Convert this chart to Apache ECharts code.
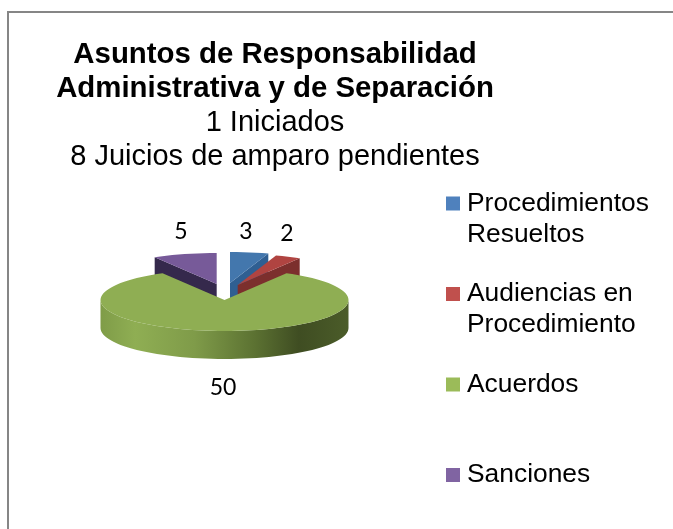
<!DOCTYPE html>
<html>
<head>
<meta charset="utf-8">
<style>html,body{margin:0;padding:0;background:#fff}#c{width:673px;height:529px}</style>
<script src="https://cdn.jsdelivr.net/npm/echarts@6/dist/echarts.min.js"></script>
</head>
<body>
<div id="c"></div>
<script>
const categories = ['Procedimientos\nResueltos', 'Audiencias en\nProcedimiento', 'Acuerdos', 'Sanciones'];
const values = [3, 2, 50, 5];
const titleText = 'Asuntos de Responsabilidad\nAdministrativa y de Separación';
const subtitleText = '1 Iniciados\n8 Juicios de amparo pendientes';

// Drawing constants (projection of the tilted pie)
const RX = 124, RY = 31, DEPTH = 28;
const sliceCenter = [[230, 283], [237.7, 285], [224.5, 300], [216.7, 284]];
const labelAt = [[246, 232], [287, 234], [223, 388], [181, 232]];
const topColor = ['#4377ad', '#b04441', '#8fae53', '#775a99'];
const wallColor = ['#2f5f92', '#7c2f2d', '#5f7a36', '#35294c'];
const legendColor = ['#4f81bd', '#c0504d', '#9bbb59', '#8064a2'];
const LINE = 31;

const total = values.reduce((a, b) => a + b, 0);
function rimPoint(c, deg, dy) {
  const a = deg * Math.PI / 180;
  return [c[0] + RX * Math.sin(a), c[1] - RY * Math.cos(a) + (dy || 0)];
}
function arc(c, from, to, dy) {
  const pts = [], n = Math.max(2, Math.ceil(Math.abs(to - from) / 3));
  for (let i = 0; i <= n; i++) pts.push(rimPoint(c, from + (to - from) * i / n, dy));
  return pts;
}
function renderSlice(idx) {
  return function (params, api) {
    const before = values.slice(0, idx).reduce((a, b) => a + b, 0);
    const start = before / total * 360;
    const end = start + api.value(0) / total * 360;
    const c = sliceCenter[idx];
    const kids = [];
    const wall = (points, fill) => kids.push({ type: 'polygon', shape: { points }, style: { fill } });
    if (idx === 2) {
      // visible front wall of the large slice
      const front = arc(c, 90, 270).concat(arc(c, 270, 90, DEPTH));
      wall(front, new echarts.graphic.LinearGradient(0, 0, 1, 0, [
        { offset: 0, color: '#7f9c48' }, { offset: 0.14, color: '#8fae53' },
        { offset: 0.38, color: '#7f9b49' }, { offset: 0.62, color: '#5c7232' },
        { offset: 0.8, color: '#3f4d22' }, { offset: 1, color: '#4b5c29' }
      ]));
    } else if (idx === 3) {
      const rim = rimPoint(c, start);
      wall([c, rim, [rim[0], rim[1] + DEPTH], [c[0], c[1] + DEPTH]], wallColor[idx]);
    } else {
      const rim = rimPoint(c, end);
      wall([c, rim, [rim[0], rim[1] + DEPTH], [c[0], c[1] + DEPTH]], wallColor[idx]);
    }
    wall([c].concat(arc(c, start, end)), topColor[idx]);
    kids.push({
      type: 'text',
      style: {
        x: labelAt[idx][0], y: labelAt[idx][1], text: String(api.value(0)),
        font: '23px Lato', fill: '#000', align: 'center', verticalAlign: 'middle'
      }
    });
    return { type: 'group', children: kids };
  };
}

const chart = echarts.init(document.getElementById('c'), null, { renderer: 'canvas' });
chart.setOption({
  animation: false,
  backgroundColor: '#fff',
  color: legendColor,
  title: {
    text: titleText,
    subtext: subtitleText,
    left: 275, top: 38, textAlign: 'center', itemGap: 0, padding: 0,
    textStyle: { fontFamily: 'Liberation Sans', fontWeight: 'bold', fontSize: 29.4, lineHeight: 34, color: '#000' },
    subtextStyle: { fontFamily: 'Liberation Sans', fontSize: 29, lineHeight: 34, color: '#000' }
  },
  legend: {
    orient: 'vertical', left: 446, top: 157, height: 370, padding: 0,
    icon: 'rect', itemWidth: 14, itemHeight: 14, itemGap: 90.5 - 3 * LINE,
    selectedMode: false,
    data: categories,
    // a blank first line keeps the marker level with the first line of each name
    formatter: name => name.includes('\n') ? '\n' + name : '\n' + name + '\n',
    textStyle: { fontFamily: 'Liberation Sans', fontSize: 26.4, lineHeight: LINE, color: '#000', padding: [0, 0, 0, 2] },
    itemStyle: { borderWidth: 0 }
  },
  graphic: [{
    type: 'polyline', silent: true, z: -1,
    shape: { points: [[8, 529], [8, 12], [673, 12]] },
    style: { stroke: '#868686', lineWidth: 2, fill: null }
  }],
  series: categories.map((name, i) => ({
    type: 'custom', name, coordinateSystem: 'none',
    z: i === 2 ? 3 : 2, silent: true,
    data: [[values[i]]],
    renderItem: renderSlice(i)
  }))
});
</script>
</body>
</html>
